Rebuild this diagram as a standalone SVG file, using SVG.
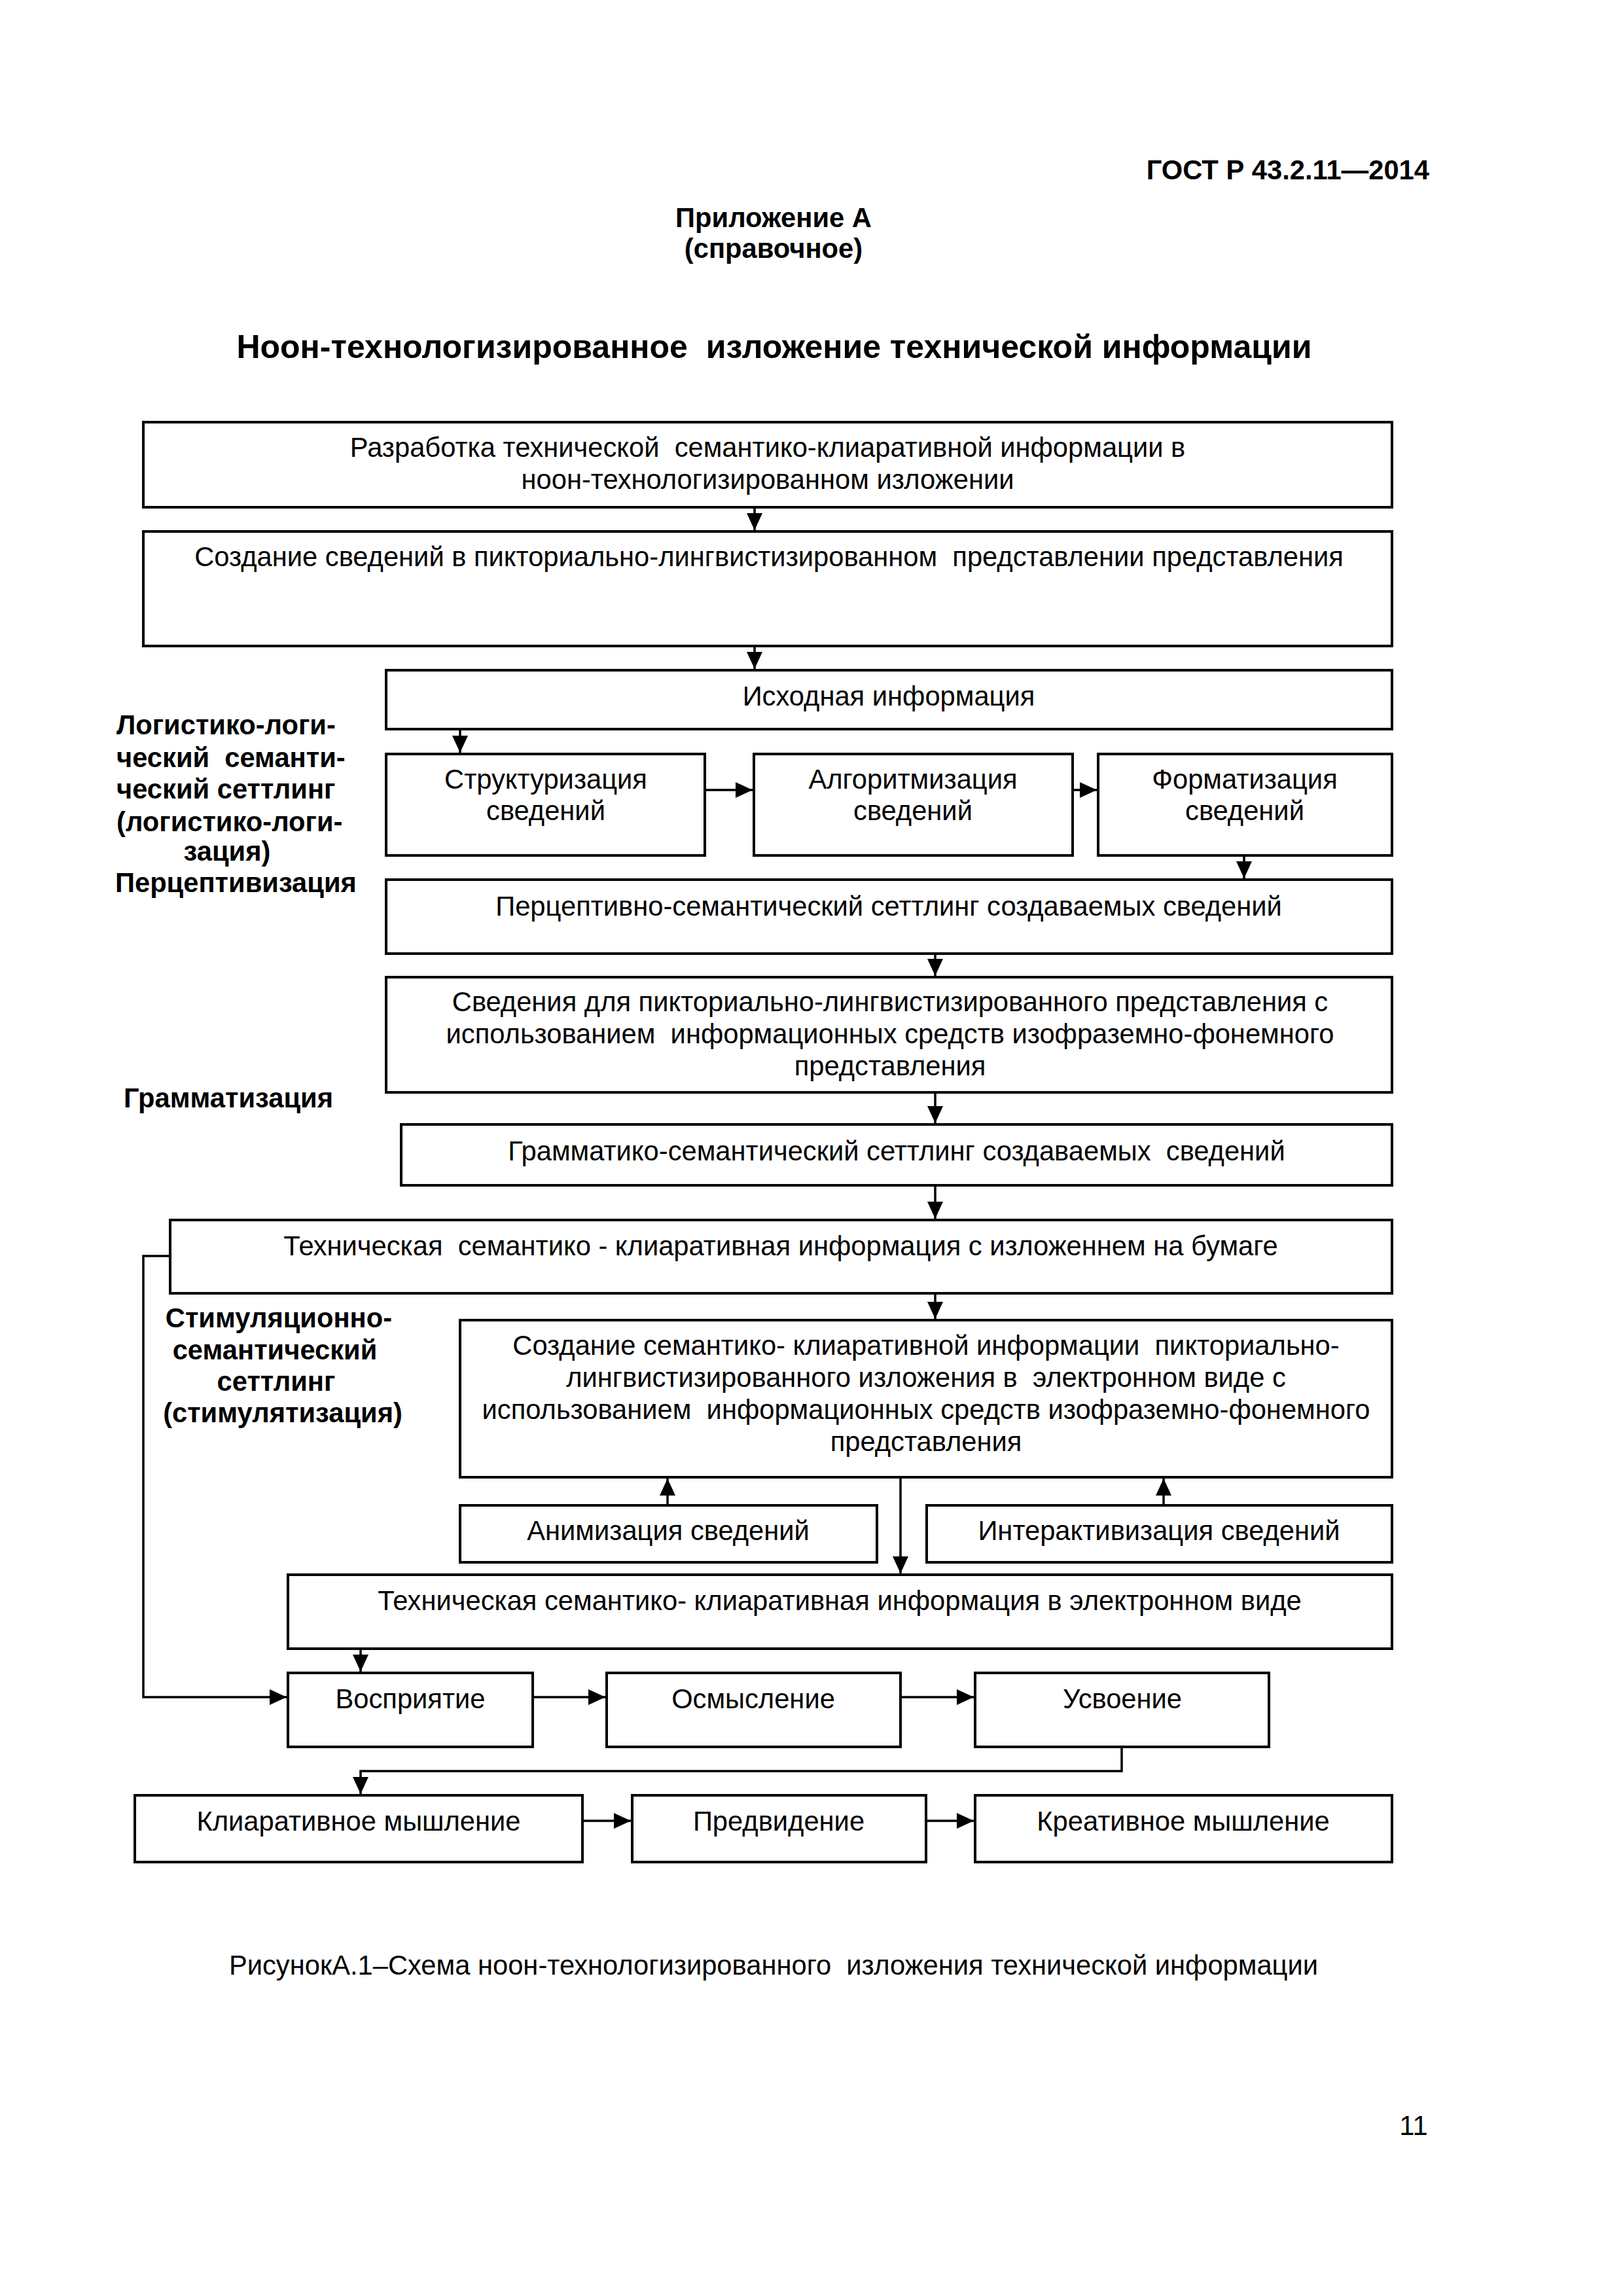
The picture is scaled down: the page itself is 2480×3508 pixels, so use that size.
<svg xmlns="http://www.w3.org/2000/svg" width="2480" height="3508" viewBox="0 0 2480 3508">
<style>
.bx{fill:#fff;stroke:#000;stroke-width:4}
.t{font-family:"Liberation Sans",Arial,sans-serif;font-size:41.7px;fill:#000;text-anchor:middle;white-space:pre}
.b{font-family:"Liberation Sans",Arial,sans-serif;font-size:41.7px;font-weight:bold;fill:#000;white-space:pre}
.c{fill:none;stroke:#000;stroke-width:3.5}
.m{text-anchor:middle}
</style>
<defs>
<marker id="ah" markerUnits="userSpaceOnUse" markerWidth="26" markerHeight="24" refX="26" refY="12" orient="auto" viewBox="0 0 26 24"><path d="M0,0 L26,12 L0,24 Z" fill="#000"/></marker>
</defs>
<rect width="2480" height="3508" fill="#fff"/>
<g id="header">
<text class="b" x="2184" y="274" text-anchor="end">ГОСТ Р 43.2.11—2014</text>
<text class="b m" x="1182" y="347">Приложение А</text>
<text class="b m" x="1182" y="394">(справочное)</text>
<text class="b m" x="1183" y="547" style="font-size:50px" xml:space="preserve">Ноон-технологизированное  изложение технической информации</text>
</g>
<g id="labels">
<text class="b" x="178" y="1122">Логистико-логи-</text>
<text class="b" x="178" y="1172" xml:space="preserve">ческий  семанти-</text>
<text class="b" x="178" y="1220">ческий сеттлинг</text>
<text class="b" x="178" y="1270">(логистико-логи-</text>
<text class="b m" x="347" y="1315">зация)</text>
<text class="b" x="176" y="1363">Перцептивизация</text>
<text class="b" x="189" y="1692">Грамматизация</text>
<text class="b m" x="426" y="2028">Стимуляционно-</text>
<text class="b m" x="420" y="2077">семантический</text>
<text class="b m" x="422" y="2125">сеттлинг</text>
<text class="b m" x="432" y="2173">(стимулятизация)</text>
</g>
<g id="n1"><rect class="bx" x="219" y="645" width="1908" height="130"/>
<text class="t" x="1173" y="698" xml:space="preserve">Разработка технической  семантико-клиаративной информации в</text>
<text class="t" x="1173" y="747">ноон-технологизированном изложении</text></g>
<g id="n2"><rect class="bx" x="219" y="812" width="1908" height="175"/>
<text class="t" x="1175" y="865" xml:space="preserve">Создание сведений в пикториально-лингвистизированном  представлении представления</text></g>
<g id="n3"><rect class="bx" x="590" y="1024" width="1537" height="90"/>
<text class="t" x="1358" y="1078">Исходная информация</text></g>
<g id="n4"><rect class="bx" x="590" y="1152" width="487" height="155"/>
<text class="t" x="834" y="1205">Структуризация</text>
<text class="t" x="834" y="1253">сведений</text></g>
<g id="n5"><rect class="bx" x="1152" y="1152" width="487" height="155"/>
<text class="t" x="1395" y="1205">Алгоритмизация</text>
<text class="t" x="1395" y="1253">сведений</text></g>
<g id="n6"><rect class="bx" x="1678" y="1152" width="449" height="155"/>
<text class="t" x="1902" y="1205">Форматизация</text>
<text class="t" x="1902" y="1253">сведений</text></g>
<g id="n7"><rect class="bx" x="590" y="1344" width="1537" height="113"/>
<text class="t" x="1358" y="1399">Перцептивно-семантический сеттлинг создаваемых сведений</text></g>
<g id="n8"><rect class="bx" x="590" y="1493" width="1537" height="176"/>
<text class="t" x="1360" y="1545">Сведения для пикториально-лингвистизированного представления с</text>
<text class="t" x="1360" y="1594" xml:space="preserve">использованием  информационных средств изофраземно-фонемного</text>
<text class="t" x="1360" y="1643">представления</text></g>
<g id="n9"><rect class="bx" x="613" y="1718" width="1514" height="93"/>
<text class="t" x="1370" y="1773" xml:space="preserve">Грамматико-семантический сеттлинг создаваемых  сведений</text></g>
<g id="n10"><rect class="bx" x="260" y="1864" width="1867" height="112"/>
<text class="t" x="1193" y="1918" xml:space="preserve">Техническая  семантико - клиаративная информация с изложеннем на бумаге</text></g>
<g id="n11"><rect class="bx" x="703" y="2017" width="1424" height="240"/>
<text class="t" x="1415" y="2070" xml:space="preserve">Создание семантико- клиаративной информации  пикториально-</text>
<text class="t" x="1415" y="2119" xml:space="preserve">лингвистизированного изложения в  электронном виде с</text>
<text class="t" x="1415" y="2168" xml:space="preserve">использованием  информационных средств изофраземно-фонемного</text>
<text class="t" x="1415" y="2217">представления</text></g>
<g id="n12"><rect class="bx" x="703" y="2300" width="637" height="87"/>
<text class="t" x="1021" y="2353">Анимизация сведений</text></g>
<g id="n13"><rect class="bx" x="1416" y="2300" width="711" height="87"/>
<text class="t" x="1771" y="2353">Интерактивизация сведений</text></g>
<g id="n14"><rect class="bx" x="440" y="2406" width="1687" height="113"/>
<text class="t" x="1283" y="2460">Техническая семантико- клиаративная информация в электронном виде</text></g>
<g id="n15"><rect class="bx" x="440" y="2556" width="374" height="113"/>
<text class="t" x="627" y="2610">Восприятие</text></g>
<g id="n16"><rect class="bx" x="927" y="2556" width="449" height="113"/>
<text class="t" x="1151" y="2610">Осмысление</text></g>
<g id="n17"><rect class="bx" x="1490" y="2556" width="449" height="113"/>
<text class="t" x="1715" y="2610">Усвоение</text></g>
<g id="n18"><rect class="bx" x="206" y="2743" width="684" height="102"/>
<text class="t" x="548" y="2797">Клиаративное мышление</text></g>
<g id="n19"><rect class="bx" x="966" y="2743" width="449" height="102"/>
<text class="t" x="1190" y="2797">Предвидение</text></g>
<g id="n20"><rect class="bx" x="1490" y="2743" width="637" height="102"/>
<text class="t" x="1808" y="2797">Креативное мышление</text></g>
<g id="connectors">
<path class="c" d="M1153,777 V810" marker-end="url(#ah)"/>
<path class="c" d="M1153,989 V1022" marker-end="url(#ah)"/>
<path class="c" d="M703,1116 V1150" marker-end="url(#ah)"/>
<path class="c" d="M1079,1207 H1150" marker-end="url(#ah)"/>
<path class="c" d="M1641,1207 H1676" marker-end="url(#ah)"/>
<path class="c" d="M1901,1309 V1342" marker-end="url(#ah)"/>
<path class="c" d="M1429,1459 V1491" marker-end="url(#ah)"/>
<path class="c" d="M1429,1671 V1716" marker-end="url(#ah)"/>
<path class="c" d="M1429,1813 V1862" marker-end="url(#ah)"/>
<path class="c" d="M1429,1978 V2015" marker-end="url(#ah)"/>
<path class="c" d="M1020,2298 V2259" marker-end="url(#ah)"/>
<path class="c" d="M1778,2298 V2259" marker-end="url(#ah)"/>
<path class="c" d="M1376,2259 V2404" marker-end="url(#ah)"/>
<path class="c" d="M551,2521 V2554" marker-end="url(#ah)"/>
<path class="c" d="M258,1919 H219 V2593 H438" marker-end="url(#ah)"/>
<path class="c" d="M816,2593 H925" marker-end="url(#ah)"/>
<path class="c" d="M1378,2593 H1488" marker-end="url(#ah)"/>
<path class="c" d="M1714,2671 V2706 H551 V2741" marker-end="url(#ah)"/>
<path class="c" d="M892,2782 H964" marker-end="url(#ah)"/>
<path class="c" d="M1417,2782 H1488" marker-end="url(#ah)"/>
</g>
<g id="caption">
<text class="t" x="1182" y="3017" xml:space="preserve">РисунокА.1–Схема ноон-технологизированного  изложения технической информации</text>
<text class="t" x="2160" y="3262">11</text>
</g>
</svg>
